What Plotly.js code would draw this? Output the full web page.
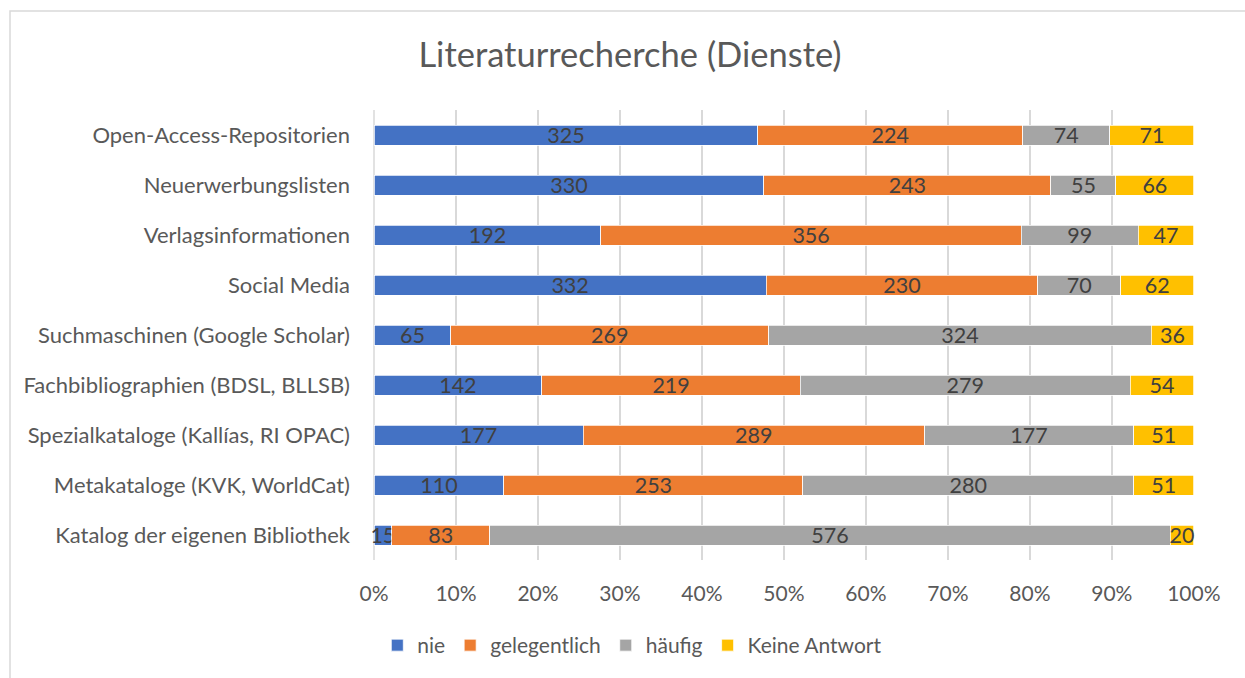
<!DOCTYPE html>
<html>
<head>
<meta charset="utf-8">
<script src="https://cdn.plot.ly/plotly-3.0.1.min.js"></script>
<style>
html,body{margin:0;padding:0;background:#fff;}
#chart{width:1245px;height:678px;}
</style>
</head>
<body>
<div id="chart"></div>
<script>
const categories = [
  "Katalog der eigenen Bibliothek",
  "Metakataloge (KVK, WorldCat)",
  "Spezialkataloge (Kallías, RI OPAC)",
  "Fachbibliographien (BDSL, BLLSB)",
  "Suchmaschinen (Google Scholar)",
  "Social Media",
  "Verlagsinformationen",
  "Neuerwerbungslisten",
  "Open-Access-Repositorien"
];
const nie          = [15, 110, 177, 142, 65, 332, 192, 330, 325];
const gelegentlich = [83, 253, 289, 219, 269, 230, 356, 243, 224];
const haeufig      = [576, 280, 177, 279, 324, 70, 99, 55, 74];
const keineAntwort = [20, 51, 51, 54, 36, 62, 47, 66, 71];
const seriesNames  = ["nie", "gelegentlich", "häufig", "Keine Antwort"];
const seriesColors = ["#4472C4", "#ED7D31", "#A5A5A5", "#FFC000"];
const xTickVals = [0,10,20,30,40,50,60,70,80,90,100];
const xTickText = ["0%","10%","20%","30%","40%","50%","60%","70%","80%","90%","100%"];

const FONT = "Lato, Open Sans, sans-serif";
const allSeries = [nie, gelegentlich, haeufig, keineAntwort];
const traces = allSeries.map((vals, i) => ({
  type: "bar",
  orientation: "h",
  name: seriesNames[i],
  y: categories,
  x: vals,
  text: vals.map(String),
  texttemplate: "%{text}",
  textposition: "inside",
  insidetextanchor: "middle",
  constraintext: "none",
  textangle: 0,
  cliponaxis: false,
  insidetextfont: {family: FONT, size: 21.5, color: "#404040"},
  marker: {color: seriesColors[i], line: {color: "#ffffff", width: 0.75}},
  hoverinfo: "name+x"
}));

const layout = {
  width: 1245,
  height: 678,
  margin: {l: 374, r: 51, t: 110, b: 118, pad: 0},
  paper_bgcolor: "#ffffff",
  plot_bgcolor: "#ffffff",
  font: {family: FONT, color: "#595959", size: 21},
  barmode: "stack",
  barnorm: "percent",
  bargap: 0.6,
  title: {
    text: "Literaturrecherche (Dienste)",
    font: {family: FONT, size: 34.5, color: "#595959"},
    x: 630 / 1245, xanchor: "center", xref: "container",
    y: 1 - 55/678, yanchor: "middle", yref: "container"
  },
  xaxis: {
    range: [0, 100.02],
    tickvals: xTickVals,
    ticktext: xTickText,
    showgrid: true,
    gridcolor: "#d9d9d9",
    gridwidth: 1.5,
    zeroline: false,
    showline: false,
    ticks: "",
    ticklabelstandoff: 19,
    tickfont: {family: FONT, size: 21, color: "#595959"},
    fixedrange: true
  },
  yaxis: {
    type: "category",
    showgrid: false,
    zeroline: false,
    showline: false,
    ticks: "",
    ticklabelstandoff: 23,
    tickfont: {family: FONT, size: 22, color: "#595959"},
    fixedrange: true
  },
  showlegend: true,
  legend: {
    orientation: "h",
    x: 0.315, xanchor: "center",
    y: -0.19, yanchor: "middle",
    font: {family: FONT, size: 21, color: "#595959"},
    traceorder: "normal",
    itemwidth: 30
  },
  shapes: [
    {type: "line", xref: "paper", yref: "paper",
     x0: 0, x1: 0, y0: 0, y1: 1,
     line: {color: "#d9d9d9", width: 1.5}, layer: "below"},
    {type: "rect", xref: "paper", yref: "paper",
     x0: (10 - 374) / 820, x1: (1260 - 374) / 820,
     y0: (560 - 700) / 450, y1: (560 - 11) / 450,
     line: {color: "#d9d9d9", width: 1.5}, fillcolor: "rgba(0,0,0,0)", layer: "below"}
  ]
};

Plotly.newPlot("chart", traces, layout, {displayModeBar: false, staticPlot: true});
</script>
</body>
</html>
